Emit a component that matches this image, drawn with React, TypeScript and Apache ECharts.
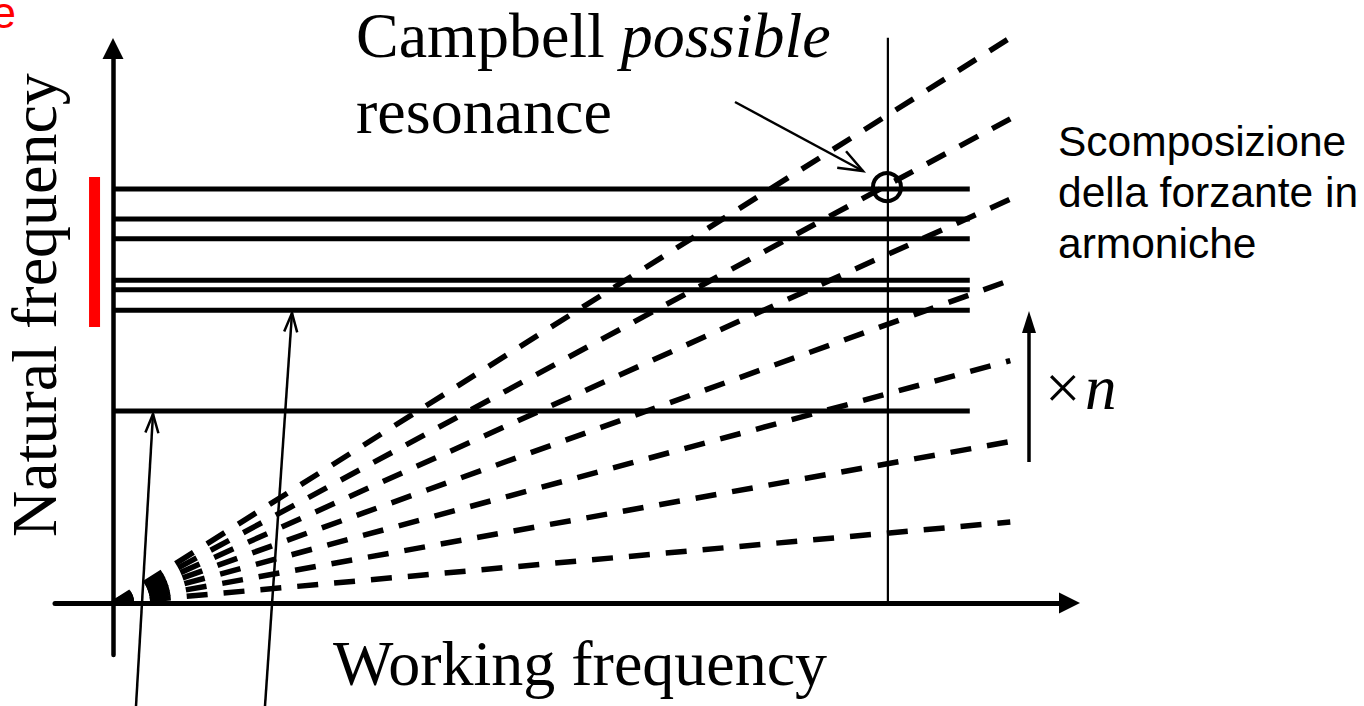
import React, { useEffect, useRef } from "react";
import * as echarts from "echarts";

// ---- data (axis units: working frequency on x, natural frequency on y) ----
const harmonicOrders = [1, 2, 3, 4, 5, 6, 7];
const harmonicEndX = 99.7;
const harmonicEndY = [13.5, 26.9, 40.4, 53.8, 67.3, 80.7, 94.2];
const naturalFrequencies = [69.0, 64.0, 60.7, 53.8, 52.2, 48.8, 32.0];
const naturalLineEndX = 95.2;
const operatingSpeed = 86.1;
const operatingLineTop = 94.2;
const resonancePoint = [86.0, 69.3];
const naturalRangeX = -2.05;
const naturalRange = [46.0, 71.0];

const xRange = [-6.444, 106.28];
const yRange = [-8.667, 92.417];

const SERIF = "'Liberation Serif', 'Times New Roman', serif";
const SANS = "'Liberation Sans', Arial, sans-serif";

function arrowHead(from: number[], tip: number[], len: number, angDeg: number) {
  const dx = from[0] - tip[0];
  const dy = from[1] - tip[1];
  const d = Math.hypot(dx, dy);
  const ux = dx / d, uy = dy / d;
  const a = (angDeg * Math.PI) / 180;
  const rot = (s: number) => [
    tip[0] + len * (ux * Math.cos(s * a) - uy * Math.sin(s * a)),
    tip[1] + len * (ux * Math.sin(s * a) + uy * Math.cos(s * a)),
  ];
  return [rot(1), tip, rot(-1)];
}

function annotArrow(from: number[], tip: number[], len: number, ang: number, w: number) {
  return [
    { type: "line", shape: { x1: from[0], y1: from[1], x2: tip[0], y2: tip[1] }, style: { stroke: "#000", lineWidth: w }, silent: true },
    { type: "polyline", shape: { points: arrowHead(from, tip, len, ang) }, style: { stroke: "#000", lineWidth: w, fill: null }, silent: true },
  ];
}

export default function App() {
  const ref = useRef<HTMLDivElement>(null);
  useEffect(() => {
    if (!ref.current) return;
    const chart = echarts.init(ref.current, null, { renderer: "svg" });

    const series: any[] = [];
    harmonicOrders.forEach((n, i) => {
      series.push({
        name: "harmonic " + n,
        type: "line",
        data: [[0, 0], [harmonicEndX, harmonicEndY[i]]],
        symbol: "none",
        clip: false,
        silent: true,
        lineStyle: { color: "#000", width: 5.5, type: [21, 16], dashOffset: 0, cap: "butt", opacity: 1 },
        z: 2,
      });
    });
    naturalFrequencies.forEach((f, i) => {
      series.push({
        name: "mode " + (i + 1),
        type: "line",
        data: [[0, f], [naturalLineEndX, f]],
        symbol: "none",
        clip: false,
        silent: true,
        lineStyle: { color: "#000", width: 5, cap: "butt", opacity: 1 },
        z: 3,
      });
    });
    series.push({
      type: "line",
      data: [[operatingSpeed, 0], [operatingSpeed, operatingLineTop]],
      symbol: "none",
      clip: false,
      silent: true,
      lineStyle: { color: "#000", width: 2.2 },
      z: 3,
    });
    series.push({
      type: "line",
      data: [[naturalRangeX, naturalRange[0]], [naturalRangeX, naturalRange[1]]],
      symbol: "none",
      clip: false,
      silent: true,
      lineStyle: { color: "#ff0000", width: 11, cap: "butt" },
      z: 3,
    });
    series.push({
      type: "scatter",
      data: [resonancePoint],
      symbol: "circle",
      symbolSize: 28,
      clip: false,
      silent: true,
      itemStyle: { color: "rgba(0,0,0,0)", borderColor: "#000", borderWidth: 4, opacity: 1 },
      z: 4,
    });

    const graphic: any[] = [
      {
        type: "text", x: 356, y: 35, silent: true,
        style: {
          text: "{a|Campbell }{b|possible}",
          rich: {
            a: { fontFamily: SERIF, fontSize: 64, fill: "#000" },
            b: { fontFamily: SERIF, fontSize: 64, fontStyle: "italic", fill: "#000" },
          },
          align: "left", verticalAlign: "middle",
        },
      },
      { type: "text", x: 356, y: 111, silent: true, style: { text: "resonance", font: `64px ${SERIF}`, fill: "#000", align: "left", verticalAlign: "middle" } },
      { type: "text", x: 580, y: 663, silent: true, style: { text: "Working frequency", font: `64px ${SERIF}`, fill: "#000", align: "center", verticalAlign: "middle" } },
      { type: "text", x: 34.5, y: 305, rotation: Math.PI / 2, silent: true, style: { text: "Natural frequency", font: `64px ${SERIF}`, fill: "#000", align: "center", verticalAlign: "middle" } },
      { type: "text", x: 1058, y: 141, silent: true, style: { text: "Scomposizione", font: `42.5px ${SANS}`, fill: "#000", align: "left", verticalAlign: "middle" } },
      { type: "text", x: 1058, y: 192, silent: true, style: { text: "della forzante in", font: `42.5px ${SANS}`, fill: "#000", align: "left", verticalAlign: "middle" } },
      { type: "text", x: 1058, y: 243, silent: true, style: { text: "armoniche", font: `42.5px ${SANS}`, fill: "#000", align: "left", verticalAlign: "middle" } },
      { type: "text", x: 1045, y: 388, silent: true, style: { text: "×", font: `63px ${SERIF}`, fill: "#000", align: "left", verticalAlign: "middle" } },
      { type: "text", x: 1085, y: 388, silent: true, style: { text: "n", font: `italic 63px ${SERIF}`, fill: "#000", align: "left", verticalAlign: "middle" } },
      { type: "text", x: 16, y: 12, silent: true, style: { text: "e", font: `44px ${SANS}`, fill: "#ff0000", align: "right", verticalAlign: "middle" } },
      ...annotArrow([735, 102], [863, 171], 26, 21, 2.5),
      ...annotArrow([136, 706], [153, 414], 20, 19, 2.5),
      ...annotArrow([265, 706], [292, 313], 20, 19, 2.5),
      { type: "line", shape: { x1: 1029, y1: 462, x2: 1029, y2: 330 }, style: { stroke: "#000", lineWidth: 3.5 }, silent: true },
      { type: "polygon", shape: { points: [[1029, 311], [1022, 333], [1036, 333]] }, style: { fill: "#000" }, silent: true },
    ];

    chart.setOption({
      animation: false,
      backgroundColor: "#fff",
      grid: { left: 55, top: 48.5, right: 1364 - 1069.5, bottom: 706 - 655, containLabel: false, outerBoundsMode: "none" },
      xAxis: {
        type: "value", min: xRange[0], max: xRange[1],
        axisLine: { show: true, onZero: true, symbol: ["none", "triangle"], symbolSize: [21, 21], lineStyle: { color: "#000", width: 5 } },
        axisTick: { show: false }, axisLabel: { show: false }, splitLine: { show: false },
      },
      yAxis: {
        type: "value", min: yRange[0], max: yRange[1],
        axisLine: { show: true, onZero: true, symbol: ["none", "triangle"], symbolSize: [21, 21], lineStyle: { color: "#000", width: 4.5 } },
        axisTick: { show: false }, axisLabel: { show: false }, splitLine: { show: false },
      },
      series,
      graphic,
    });
    return () => chart.dispose();
  }, []);
  return <div ref={ref} style={{ position: "absolute", left: 0, top: 0, width: 1364, height: 706 }} />;
}
